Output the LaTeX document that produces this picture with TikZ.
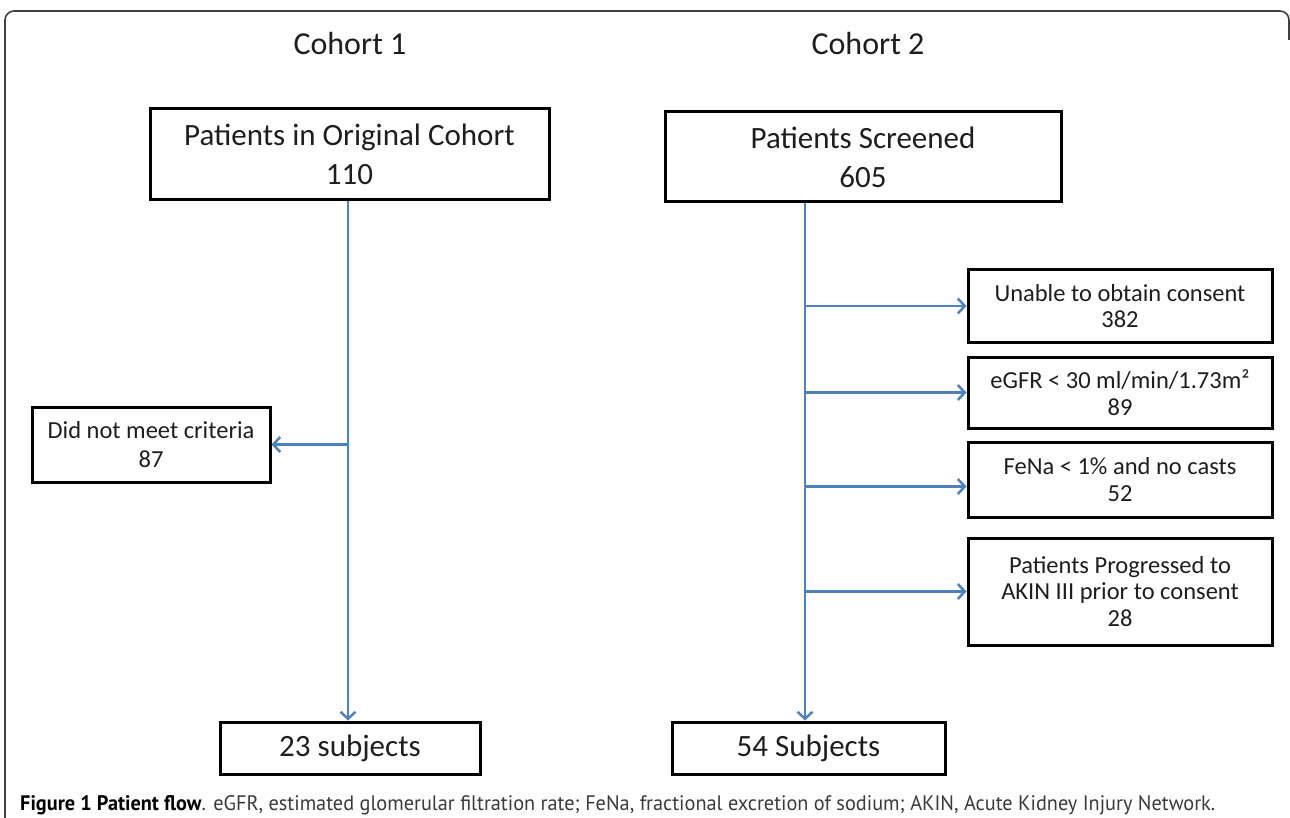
\documentclass[tikz,border=0pt]{standalone}
\usepackage{fontspec}
\usepackage{graphicx}
\setmainfont{Carlito}
\newfontfamily\capfont{PT Sans}
\usetikzlibrary{arrows.meta}
\definecolor{flowblue}{HTML}{4F81BD}
\definecolor{txt}{HTML}{1E1E1E}
\definecolor{captxt}{HTML}{3A3A3A}
\begin{document}
\begin{tikzpicture}[x=1pt,y=-1pt,
  bigbox/.style={draw=black, line width=3pt, inner sep=0pt, align=center, text=txt,
    font=\fontsize{31}{39}\selectfont},
  smallbox/.style={draw=black, line width=3pt, inner sep=0pt, align=center, text=txt,
    font=\fontsize{24.5}{26.5}\selectfont},
  flow/.style={draw=flowblue, line width=2.8pt,
    -{Straight Barb[length=7pt,width=15pt,line width=2.5pt]}},
  label/.style={text=txt, inner sep=0pt, font=\fontsize{32}{38}\selectfont},
  frame/.style={draw=black!75, line width=1.6pt, rounded corners=9pt}
]
\useasboundingbox (0,0) rectangle (1290,818);
\draw[frame] (5,840) -- (5,11) -- (1289,11) -- (1289,40);

\node[label] (c1) at (350,44) {Cohort 1};
\node[label] (c2) at (868,44) {Cohort 2};

\node[bigbox, minimum width=399pt, minimum height=91pt] (A) at (349.5,154.5)
  {Patients in Original Cohort\\110};
\node[bigbox, minimum width=396pt, minimum height=90pt] (B) at (863,157)
  {Patients Screened\\605};

\node[smallbox, minimum width=238pt, minimum height=75pt] (D) at (151,444.5)
  {Did not meet criteria\\[2pt]87};
\node[bigbox, minimum width=260pt, minimum height=52pt] (S23) at (350,748)
  {23 subjects};
\node[bigbox, minimum width=273pt, minimum height=52pt] (S54) at (808.5,748)
  {54 Subjects};

\node[smallbox, minimum width=304pt, minimum height=72pt] (R1) at (1120,306)
  {Unable to obtain consent\\382};
\node[smallbox, minimum width=304pt, minimum height=71pt] (R2) at (1120,392.5)
  {eGFR < 30 ml/min/1.73m²\\89};
\node[smallbox, minimum width=304pt, minimum height=75pt] (R3) at (1120,479.5)
  {FeNa < 1\% and no casts\\52};
\node[smallbox, minimum width=304pt, minimum height=107pt] (R4) at (1120,591.5)
  {Patients Progressed to\\AKIN III prior to consent\\28};

\coordinate (vA) at (348,200);
\coordinate (vB) at (805,202);

\draw[flow] (A.south -| vA) -- (vA |- S23.north);
\draw[flow] (vA |- D.east) -- (D.east);

\draw[flow] (B.south -| vB) -- (vB |- S54.north);
\draw[flow] (vB |- R1.west) -- (R1.west);
\draw[flow] (vB |- R2.west) -- (R2.west);
\draw[flow] ([yshift=-7pt]vB |- R3.west) -- ([yshift=-7pt]R3.west);
\draw[flow] (vB |- R4.west) -- (R4.west);

\node[anchor=base west, inner sep=0pt] (cap) at (20,810)
  {\resizebox{1195pt}{\height}{\capfont\fontsize{21}{25}\selectfont\color{captxt}%
  {\color{black}\textbf{Figure 1 Patient flow}}. eGFR, estimated glomerular filtration rate; FeNa, fractional excretion of sodium; AKIN, Acute Kidney Injury Network.}};
\end{tikzpicture}
\end{document}
